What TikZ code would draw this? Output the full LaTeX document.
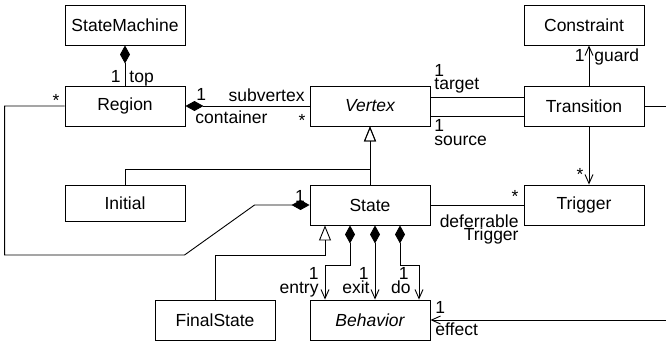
\documentclass[tikz,border=0pt]{standalone}
\usepackage{fontspec}
\setmainfont{Liberation Sans}
\usetikzlibrary{arrows.meta}

\begin{document}
\begin{tikzpicture}[x=1pt,y=-1pt,line width=0.9pt,
  font=\fontsize{17.5}{13}\selectfont,
  cls/.style={draw=black,minimum width=120pt,minimum height=40pt,inner sep=2pt},
  lbl/.style={inner sep=0pt},
  comp/.style={{Diamond[length=18pt,width=10pt]}-},
  compnav/.style={{Diamond[length=18pt,width=10pt]}-{Straight Barb[length=9pt,width=8pt]}},
  nav/.style={-{Straight Barb[length=9pt,width=8pt]}},
  gen/.style={-{Triangle[open,length=15pt,width=12pt]}}]
\useasboundingbox (0,0) rectangle (666,341);

% classes
\node[cls] (sm) at (125,25) {StateMachine};
\node[cls] (region) at (125,106) {Region};
\node[cls] (vertex) at (370,106) {\itshape Vertex};
\node[cls] (transition) at (584,106) {Transition};
\node[cls] (constraint) at (584,25) {Constraint};
\node[cls,minimum height=36pt] (initial) at (125,203) {Initial};
\node[cls] (state) at (370,205) {State};
\node[cls] (trigger) at (584,205) {Trigger};
\node[cls] (final) at (215,320) {FinalState};
\node[cls] (behavior) at (370,320) {\itshape Behavior};
\coordinate (offpage) at (672,106);

% associations
\draw[comp] (sm) -- (region);
\draw[comp] (region) -- (vertex);
\draw ([yshift=9pt]vertex.east) -- ([yshift=9pt]transition.west);
\draw ([yshift=-10pt]vertex.east) -- ([yshift=-10pt]transition.west);
\draw[nav] ([xshift=5pt]transition.north) -- ([xshift=5pt]constraint.south);
\draw[nav] ([xshift=5pt]transition.south) -- ([xshift=5pt]trigger.north);
\draw[nav] (transition) -- (offpage) |- (behavior);
\draw (state) -- (trigger);
\draw[comp] (state.west) -- ++(-55,0) -- ++(-70,50) -- ++(-180,0) |- (region.west);

% generalizations
\draw[gen] (state) -- (vertex);
\draw[gen] (initial.north) |- ([yshift=15pt]state.north) -- (vertex.south);
\draw[gen] (final.north) |- ([xshift=-45pt,yshift=-30pt]state.south) -- ([xshift=-45pt]state.south);

% behaviors owned by a state
\draw[compnav] ([xshift=-20pt]state.south) -- ++(0,40) -| ([xshift=-45pt]behavior.north);
\draw[compnav] ([xshift=5pt]state.south) -- ([xshift=5pt]behavior.north);
\draw[compnav] ([xshift=30pt]state.south) -- ++(0,40) -| ([xshift=49pt]behavior.north);

% role names and multiplicities
\node[lbl,anchor=base east] (topMul) at (121,82) {1};
\node[lbl,anchor=base west] (topRole) at (129,82) {top};
\node[lbl,anchor=base] (regMul) at (56,106) {*};
\node[lbl,anchor=base west] (contMul) at (196,100) {1};
\node[lbl,anchor=base west] (contRole) at (195,123) {container};
\node[lbl,anchor=base east] (subRole) at (305,101) {subvertex};
\node[lbl,anchor=base] (subMul) at (302,126) {*};
\node[lbl,anchor=base west] (tgtMul) at (434,76) {1};
\node[lbl,anchor=base west] (tgtRole) at (434,89) {target};
\node[lbl,anchor=base west] (srcMul) at (434,131) {1};
\node[lbl,anchor=base west] (srcRole) at (434,145) {source};
\node[lbl,anchor=base east] (grdMul) at (585,61) {1};
\node[lbl,anchor=base west] (grdRole) at (594,61) {guard};
\node[lbl,anchor=base] (trgMul) at (580,180) {*};
\node[lbl,anchor=base] (defMul) at (515,202) {*};
\node[lbl,anchor=base east] (defRole) at (519,227) {deferrable};
\node[lbl,anchor=base east] (defRoleb) at (519,240) {Trigger};
\node[lbl,anchor=base] (stMul) at (300,202) {1};
\node[lbl,anchor=base east] (entMul) at (319,279) {1};
\node[lbl,anchor=base east] (entRole) at (319,293) {entry};
\node[lbl,anchor=base east] (exMul) at (369,279) {1};
\node[lbl,anchor=base east] (exRole) at (370,293) {exit};
\node[lbl,anchor=base east] (doMul) at (409,279) {1};
\node[lbl,anchor=base east] (doRole) at (411,293) {do};
\node[lbl,anchor=base west] (effMul) at (435,313) {1};
\node[lbl,anchor=base west] (effRole) at (435,335) {effect};
\end{tikzpicture}
\end{document}
